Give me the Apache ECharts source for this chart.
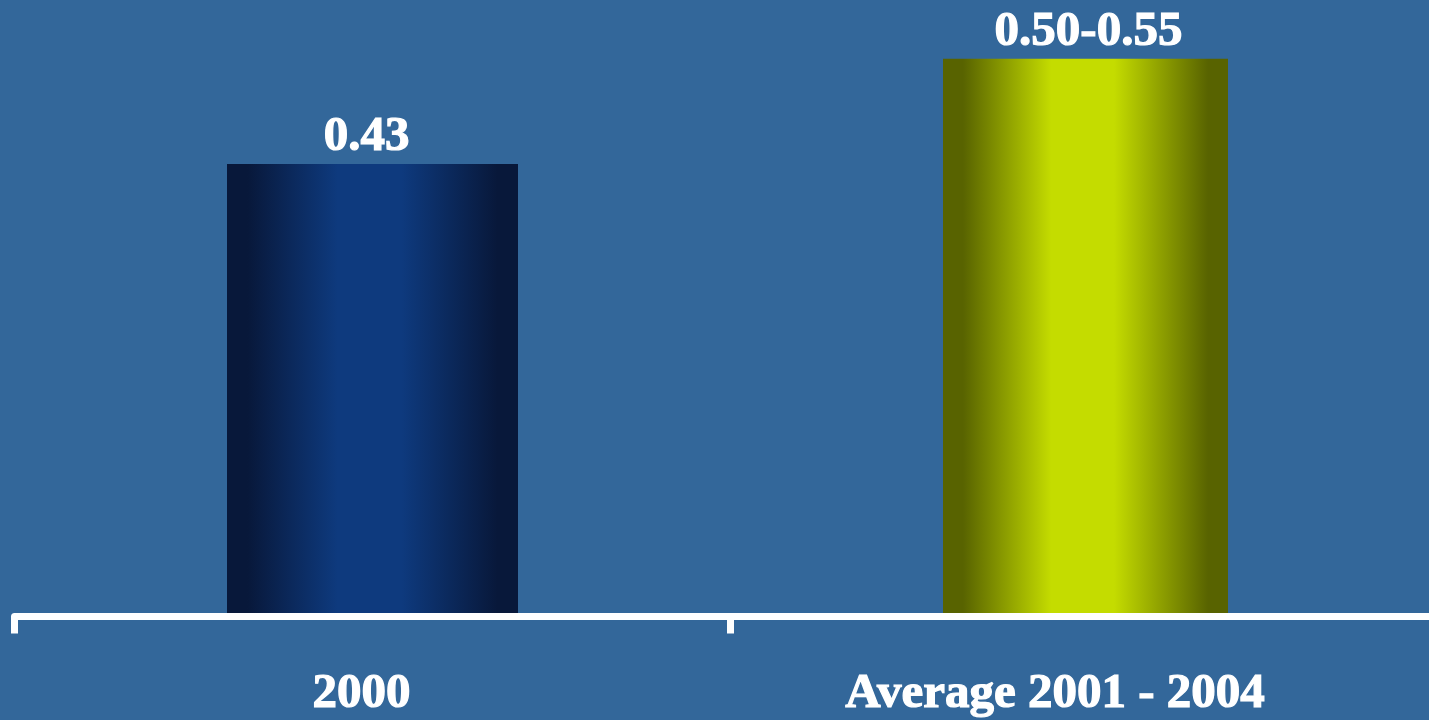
<!DOCTYPE html>
<html>
<head>
<meta charset="utf-8">
<title>Average value</title>
<script src="https://cdn.jsdelivr.net/npm/echarts@6/dist/echarts.min.js"></script>
<style>
  html, body { margin: 0; padding: 0; background: #33679a; }
  #chart { width: 1429px; height: 720px; }
</style>
</head>
<body>
<div id="chart"></div>
<script>
// Categories and values
const categories = ['2000', 'Average 2001 - 2004'];
const values = [0.43, 0.53];
const valueLabels = ['0.43', '0.50-0.55'];

// Horizontal "cylinder" shading for each bar: [edge, centre]
const barShades = [
  ['#08183a', '#0e3a7e'],
  ['#586300', '#c4dc00']
];
const barWidths = [291, 285];
// Small horizontal nudges of the value labels and category labels
const valueLabelShift = [-6, 3];
const categoryLabelPadRight = [22, 67];

const FONT = '"Liberation Serif", "Times New Roman", serif';

function shade(i) {
  const [edge, mid] = barShades[i];
  return new echarts.graphic.LinearGradient(0, 0, 1, 0, [
    { offset: 0, color: edge },
    { offset: 0.07, color: edge },
    { offset: 0.38, color: mid },
    { offset: 0.6, color: mid },
    { offset: 0.93, color: edge },
    { offset: 1, color: edge }
  ]);
}

const textStyle = {
  color: '#ffffff',
  fontFamily: FONT,
  fontWeight: 'bold',
  fontSize: 49,
  textBorderColor: '#ffffff',
  textBorderWidth: 1.2
};

// One overlapping series per category so each bar can have its own width;
// the narrower one goes first so both bars share the same left offset.
const order = [1, 0];
const series = order.map(i => ({
  type: 'bar',
  barWidth: barWidths[i],
  barGap: '-100%',
  data: values.map((val, j) => (j === i ? val : '-')),
  itemStyle: { color: shade(i) },
  label: Object.assign({
    show: true,
    position: 'top',
    distance: 2,
    offset: [valueLabelShift[i], 0],
    formatter: () => valueLabels[i]
  }, textStyle),
  silent: true
}));

const catRich = {};
categories.forEach((c, i) => {
  catRich['c' + i] = Object.assign({ padding: [0, categoryLabelPadRight[i], 0, 0] }, textStyle);
});

const chart = echarts.init(document.getElementById('chart'), null, { renderer: 'canvas' });
chart.setOption({
  backgroundColor: '#33679a',
  animation: false,
  // The axis runs past the right edge so the second category is cut off there
  grid: {
    left: 14.5, right: -17.5, top: 37.7, bottom: 103.5,
    containLabel: false,
    outerBoundsMode: 'none'
  },
  xAxis: {
    type: 'category',
    data: categories,
    z: 5,
    axisLine: { show: true, lineStyle: { color: '#ffffff', width: 7 } },
    axisTick: { show: true, length: 17, lineStyle: { color: '#ffffff', width: 7 } },
    axisLabel: Object.assign({
      margin: 53,
      formatter: (val, idx) => '{c' + categories.indexOf(val) + '|' + val + '}',
      rich: catRich
    }, textStyle)
  },
  yAxis: {
    type: 'value',
    min: 0,
    max: 0.55,
    show: false,
    splitLine: { show: false }
  },
  series: series
});
</script>
</body>
</html>
